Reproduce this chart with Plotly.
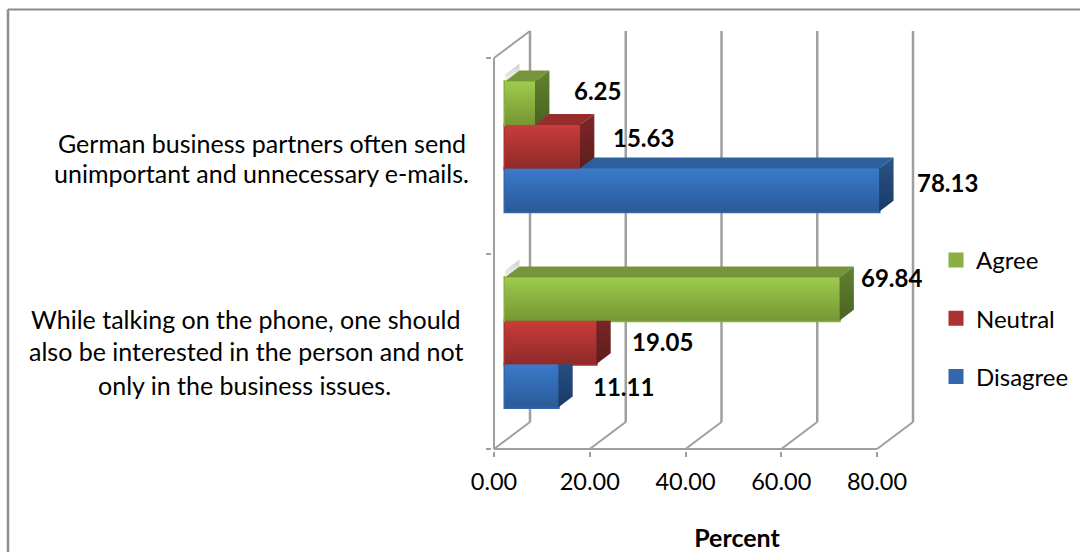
import plotly.graph_objects as go

# ---- data ----
categories = [
    ["While talking on the phone, one should",
     "also be interested in the person and not",
     "only in the business issues."],
    ["German business partners often send",
     "unimportant and unnecessary e-mails."],
]
series_names = ["Disagree", "Neutral", "Agree"]
disagree = [11.11, 78.13]
neutral = [19.05, 15.63]
agree = [69.84, 6.25]
x_ticks = [0, 20, 40, 60, 80]

# ---- geometry (pixels on the page) ----
W, H = 1080, 552
PX_PER_X = 4.7875
PX_PER_Y = 195.5
X0_PX, Y0_PX = 494, 449
L, R, T, B = 492, 982, 20, 451
FONT = "Lato"
SIZE = 24

def dx(px):
    return px / PX_PER_X
def dy(px):
    return px / PX_PER_Y
def paper_x(px):
    return (px - L) / (R - L)
def paper_y(px):
    return (B - px) / (B - T)

WALL_X, WALL_Y = dx(36), dy(27)
TOP_Y = dy(Y0_PX - 58)
BAR_SHIFT = dx(11)
BAR_H = dy(43.4)
DEPTH_X, DEPTH_Y = dx(14.5), dy(11)
CENTERS = [dy(449 - 342.5), dy(449 - 146.7)]
BANDS = {"Disagree": -1, "Neutral": 0, "Agree": 1}
RANKS = {"Agree": 1, "Neutral": 2, "Disagree": 3}

STYLE = {
    "Disagree": dict(front=("#2a5a98", "#3b7acb"), top="#2d5f9c", side=("#1a3a66", "#2a5488"), base="#3267ad"),
    "Neutral": dict(front=("#8f2a2a", "#ca3c3a"), top="#962d2b", side=("#5e1d1d", "#7f2727"), base="#ab3231"),
    "Agree": dict(front=("#769633", "#9ecb4d"), top="#76953a", side=("#4a6322", "#628230"), base="#8aae40"),
}
VALUES = {"Disagree": disagree, "Neutral": neutral, "Agree": agree}
LABEL_SHIFT = {
    ("Disagree", 0): (65, -1), ("Neutral", 0): (66, 1), ("Agree", 0): (52, 22),
    ("Disagree", 1): (68, 8), ("Neutral", 1): (64, 9), ("Agree", 1): (63, 13),
}

fig = go.Figure()

# plain bars that carry the values and the legend
for name in series_names:
    st = STYLE[name]
    ys = [c + BANDS[name] * BAR_H for c in CENTERS]
    fig.add_trace(go.Bar(
        orientation="h", name=name, y=ys, x=VALUES[name],
        base=[BAR_SHIFT] * len(ys), width=BAR_H,
        marker=dict(color=st["base"], line=dict(color=st["base"], width=3)),
        legendgroup=name, legendrank=RANKS[name], hoverinfo="x+name",
    ))

def poly(xs, ys, color=None, grad=None):
    tr = dict(x=xs + xs[:1], y=ys + ys[:1], mode="lines", fill="toself",
              line=dict(width=0), showlegend=False, hoverinfo="skip")
    if grad:
        tr["fillgradient"] = dict(type="vertical", colorscale=[[0, grad[0]], [1, grad[1]]])
        tr["fillcolor"] = grad[1]
    else:
        tr["fillcolor"] = color
    fig.add_trace(go.Scatter(**tr))

# soft shadows behind the bar starts
for c in CENTERS:
    yt = c + 1.5 * BAR_H
    poly([BAR_SHIFT, BAR_SHIFT + DEPTH_X, BAR_SHIFT + DEPTH_X, BAR_SHIFT],
         [yt, yt + DEPTH_Y, yt + DEPTH_Y + dy(7), yt + dy(7)],
         grad=("#f4f4f4", "#cfcfcf"))

# 3-D faces, back series first so nearer ones cover them
for name in series_names:
    st = STYLE[name]
    for i, c in enumerate(CENTERS):
        v = VALUES[name][i]
        yc = c + BANDS[name] * BAR_H
        y0, y1 = yc - BAR_H / 2, yc + BAR_H / 2
        x0, x1 = BAR_SHIFT, BAR_SHIFT + v
        poly([x0, x1, x1 + DEPTH_X, x0 + DEPTH_X], [y1, y1, y1 + DEPTH_Y, y1 + DEPTH_Y], color=st["top"])
        poly([x1, x1 + DEPTH_X, x1 + DEPTH_X, x1], [y0, y0 + DEPTH_Y, y1 + DEPTH_Y, y1], grad=st["side"])
        poly([x0, x1, x1, x0], [y0, y0, y1, y1], grad=st["front"])

# value labels
ann = []
for name in series_names:
    for i, c in enumerate(CENTERS):
        v = VALUES[name][i]
        sx, sy = LABEL_SHIFT[(name, i)]
        ann.append(dict(x=BAR_SHIFT + v, y=c + BANDS[name] * BAR_H, xref="x", yref="y",
                        text=f"<b>{v:.2f}</b>", showarrow=False, xshift=sx, yshift=sy,
                        font=dict(family=FONT, size=SIZE, color="#000000")))

# category labels, one annotation per line
LINE_POS = [[(245.5, 319), (246, 351), (245, 385)], [(261.5, 143), (261.5, 173)]]
for lines, pos in zip(categories, LINE_POS):
    for text, (px, py) in zip(lines, pos):
        ann.append(dict(x=paper_x(px), y=paper_y(py), xref="paper", yref="paper", text=text,
                        showarrow=False, xanchor="center", yanchor="middle",
                        font=dict(family=FONT, size=25, color="#000000")))

# walls and floor
GRID = "#9f9f9f"
def seg(x0, y0, x1, y1, width=2):
    return dict(type="line", xref="x", yref="y", x0=x0, y0=y0, x1=x1, y1=y1, layer="below",
                line=dict(color=GRID, width=width))
shapes = [seg(0, 0, 80, 0, 2), seg(0, 0, 0, TOP_Y, 2), seg(0, TOP_Y, WALL_X, TOP_Y + WALL_Y, 2)]
for t in x_ticks:
    shapes.append(seg(t, 0, t + WALL_X, WALL_Y, 2))
    shapes.append(seg(t + WALL_X, WALL_Y, t + WALL_X, TOP_Y + WALL_Y, 2.5))
# outer frame (top and left only)
FRAME = "#8c8c8c"
shapes.append(dict(type="line", xref="paper", yref="paper", x0=paper_x(8), x1=paper_x(1080),
                   y0=paper_y(9.5), y1=paper_y(9.5), line=dict(color=FRAME, width=2)))
shapes.append(dict(type="line", xref="paper", yref="paper", x0=paper_x(8), x1=paper_x(8),
                   y0=paper_y(9.5), y1=paper_y(552), line=dict(color=FRAME, width=2.5)))

fig.update_layout(
    width=W, height=H, autosize=False,
    margin=dict(l=L, r=W - R, t=T, b=H - B, autoexpand=False),
    paper_bgcolor="#ffffff", plot_bgcolor="#ffffff",
    barmode="overlay", shapes=shapes, annotations=ann,
    font=dict(family=FONT, size=SIZE, color="#000000"),
    legend=dict(x=paper_x(936), y=paper_y(238), xanchor="left", yanchor="top",
                tracegroupgap=24,
                font=dict(family=FONT, size=24), bgcolor="rgba(0,0,0,0)"),
    xaxis=dict(range=[dx(L - X0_PX), dx(R - X0_PX)], tickmode="array", tickvals=x_ticks,
               tickformat=".2f", ticks="outside", ticklen=5, tickwidth=2, tickcolor=GRID,
               ticklabelstandoff=5, automargin=False,
               showgrid=False, zeroline=False, showline=False, fixedrange=True,
               tickfont=dict(family=FONT, size=23.5),
               title=dict(text="<b>Percent</b>", standoff=36, font=dict(family=FONT, size=25))),
    yaxis=dict(range=[dy(Y0_PX - B), dy(Y0_PX - T)], tickmode="array", tickvals=[0, 1, 2],
               ticktext=["", "", ""], ticks="outside", ticklen=5, tickwidth=2, tickcolor=GRID,
               automargin=False,
               showgrid=False, zeroline=False, showline=False, fixedrange=True),
)

fig.write_html("out.html", config=dict(displayModeBar=False),
               post_script="document.body.style.margin='0';document.documentElement.style.overflow='hidden';")
